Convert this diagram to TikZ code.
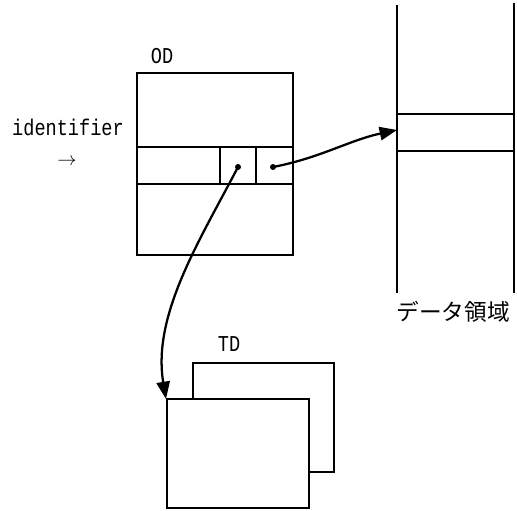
\documentclass[tikz,border=0pt]{standalone}
\usepackage{fontspec}
\setmonofont{Liberation Mono}
\newfontfamily\jpfont{Noto Sans CJK JP}
\usetikzlibrary{arrows.meta}

\begin{document}
\begin{tikzpicture}[x=0.75pt,y=-0.75pt,
  box/.style={line width=1.8pt},
  ptr/.style={line width=1.7pt,-{Triangle[length=13pt,width=10pt]}},
  lbl/.style={font=\fontsize{17}{19}\selectfont\ttfamily,xscale=0.82}]

\useasboundingbox (0,0) rectangle (517,510);

% OD
\node[lbl] (odname) at (162,56) {OD};
\draw[box] (137,73) rectangle (293,255);
\draw[box] (137,147) -- (293,147);
\draw[box] (137,184) -- (293,184);
\draw[box] (220,147) -- (220,184);
\draw[box] (256,147) -- (256,184);

\node[lbl] (ident) at (68,127) {identifier};
\node[font=\fontsize{15}{16}\selectfont] (identarrow) at (67,162) {$\rightarrow$};

% data area
\draw[box] (397,5) -- (397,293);
\draw[box] (514,3) -- (514,293);
\draw[box] (397,114) -- (514,114);
\draw[box] (397,151) -- (514,151);
\node[font=\fontsize{17}{19}\selectfont\jpfont] (data) at (453,312) {データ領域};

% TD
\node[lbl] (tdname) at (229,344) {TD};
\draw[box,fill=white] (193,363) rectangle (334,472);
\draw[box,fill=white] (167,399) rectangle (309,508);

% pointers
\coordinate (tdp) at (238,167);
\coordinate (datap) at (273,167);
\coordinate (slot) at (397,130);
\coordinate (td) at (166,399);

\fill[black] (tdp) circle (3);
\fill[black] (datap) circle (3);
\draw[ptr] (datap) .. controls (320,158) and (350,140) .. (slot);
\draw[ptr] (tdp) .. controls (200,240) and (152,315) .. (td);

\end{tikzpicture}
\end{document}
